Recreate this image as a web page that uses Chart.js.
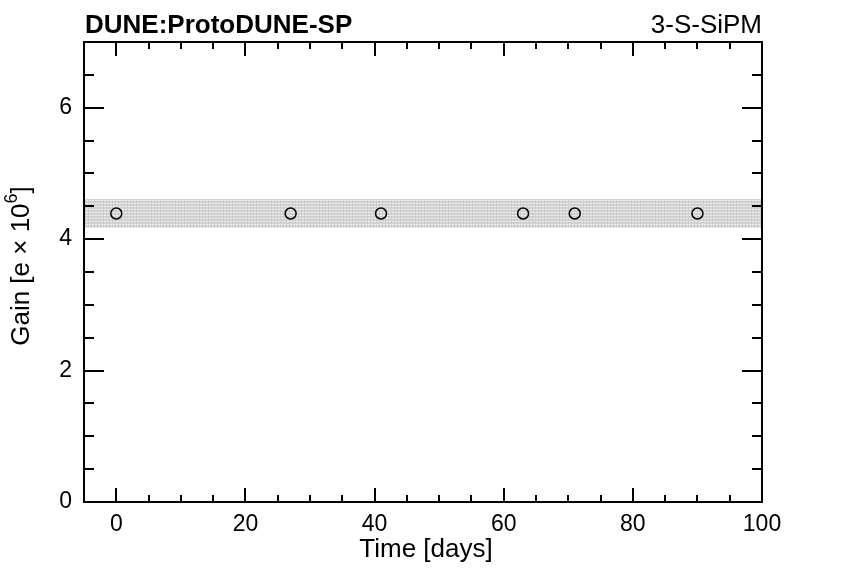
<!DOCTYPE html>
<html>
<head>
<meta charset="utf-8">
<script src="https://cdn.jsdelivr.net/npm/chart.js@4"></script>
<style>
  html, body { margin: 0; padding: 0; background: #fff; }
  #wrap { width: 847px; height: 574px; }
</style>
</head>
<body>
<div id="wrap"><canvas id="gainChart" width="847" height="574"></canvas></div>
<script>
const font = "'Liberation Sans', Arial, Helvetica, sans-serif";

// measured points
const timeDays = [0, 27, 41, 63, 71, 90];
const gainValues = [4.39, 4.39, 4.39, 4.39, 4.39, 4.39];

// band around the mean gain
const bandX = [-5, 100];
const bandLow = [4.17, 4.17];
const bandHigh = [4.61, 4.61];

const xRange = [-5, 100];
const yRange = [0, 7];
const xMajorLabels = [0, 20, 40, 60, 80, 100];
const yMajorLabels = [0, 2, 4, 6];

// dotted grey fill, a bit like the ROOT hatch
function makePattern() {
  const c = document.createElement("canvas");
  c.width = 3;
  c.height = 3;
  const g = c.getContext("2d");
  g.fillStyle = "#d2d2d2";
  g.fillRect(0, 0, 3, 3);
  g.fillStyle = "#eeeeee";
  g.fillRect(0, 2, 1, 1);
  g.fillRect(2, 2, 1, 1);
  g.fillStyle = "#c6c6c6";
  g.fillRect(1, 0, 1, 1);
  return g.createPattern(c, "repeat");
}

const frameAndTicks = {
  id: "frameAndTicks",
  afterDraw(chart) {
    const { ctx, chartArea: a, scales } = chart;
    ctx.save();
    ctx.strokeStyle = "#000";
    ctx.lineWidth = 2;
    ctx.beginPath();
    for (const t of scales.x.ticks) {
      const px = Math.round(scales.x.getPixelForValue(t.value));
      const len = t.value % 20 === 0 ? 14 : 7;
      ctx.moveTo(px, a.bottom); ctx.lineTo(px, a.bottom - len);
      ctx.moveTo(px, a.top); ctx.lineTo(px, a.top + len);
    }
    for (const t of scales.y.ticks) {
      const py = Math.round(scales.y.getPixelForValue(t.value));
      const len = Math.abs(t.value % 2) < 1e-9 ? 20 : 10;
      ctx.moveTo(a.left, py); ctx.lineTo(a.left + len, py);
      ctx.moveTo(a.right, py); ctx.lineTo(a.right - len, py);
    }
    ctx.stroke();
    ctx.strokeRect(a.left, a.top, a.right - a.left, a.bottom - a.top);

    // header texts
    ctx.fillStyle = "#000";
    ctx.textBaseline = "alphabetic";
    ctx.font = "bold 26px " + font;
    ctx.textAlign = "left";
    ctx.fillText("DUNE:ProtoDUNE-SP", a.left + 1, 33);
    ctx.font = "26px " + font;
    ctx.textAlign = "right";
    ctx.fillText("3-S-SiPM", a.right, 33);

    // x title
    ctx.textAlign = "center";
    ctx.fillText("Time [days]", (a.left + a.right) / 2 + 3, 557);

    // y title with superscript
    ctx.translate(29, (a.top + a.bottom) / 2);
    ctx.rotate(-Math.PI / 2);
    const main = "Gain [e \u00d7 10";
    ctx.font = "26px " + font;
    const w1 = ctx.measureText(main).width;
    ctx.font = "18px " + font;
    const w2 = ctx.measureText("6").width;
    ctx.font = "26px " + font;
    const w3 = ctx.measureText("]").width;
    let x0 = -(w1 + w2 + w3) / 2 + 6;
    ctx.textAlign = "left";
    ctx.fillText(main, x0, 0);
    ctx.font = "18px " + font;
    ctx.fillText("6", x0 + w1, -12);
    ctx.font = "26px " + font;
    ctx.fillText("]", x0 + w1 + w2, 0);
    ctx.restore();
  }
};

const pattern = makePattern();

new Chart(document.getElementById("gainChart"), {
  type: "scatter",
  data: {
    datasets: [
      {
        label: "band low",
        data: bandX.map((x, i) => ({ x, y: bandLow[i] })),
        showLine: true,
        borderWidth: 0,
        borderColor: "rgba(0,0,0,0)",
        pointRadius: 0,
        fill: false,
        order: 3
      },
      {
        label: "band high",
        data: bandX.map((x, i) => ({ x, y: bandHigh[i] })),
        showLine: true,
        borderWidth: 0,
        borderColor: "rgba(0,0,0,0)",
        backgroundColor: pattern,
        pointRadius: 0,
        fill: "-1",
        order: 2
      },
      {
        label: "Gain",
        data: timeDays.map((x, i) => ({ x, y: gainValues[i] })),
        pointStyle: "circle",
        pointRadius: 5.5,
        pointBorderWidth: 1.5,
        pointBorderColor: "#000",
        pointBackgroundColor: "rgba(0,0,0,0)",
        order: 0
      }
    ]
  },
  options: {
    responsive: false,
    animation: false,
    devicePixelRatio: 1,
    layout: { padding: { left: 0, right: 85, top: 42, bottom: 0 } },
    plugins: {
      legend: { display: false },
      tooltip: { enabled: false }
    },
    scales: {
      x: {
        type: "linear",
        min: xRange[0],
        max: xRange[1],
        grid: { display: false, drawTicks: false },
        border: { display: false },
        afterFit(scale) { scale.height = 72; },
        ticks: {
          stepSize: 5,
          autoSkip: false,
          maxRotation: 0,
          padding: 9,
          color: "#000",
          font: { family: font, size: 23 },
          callback: (v) => xMajorLabels.includes(v) ? String(v) : ""
        }
      },
      y: {
        type: "linear",
        min: yRange[0],
        max: yRange[1],
        grid: { display: false, drawTicks: false },
        border: { display: false },
        afterFit(scale) { scale.width = 84; },
        ticks: {
          stepSize: 0.5,
          autoSkip: false,
          padding: 12,
          color: "#000",
          font: { family: font, size: 23 },
          callback: (v) => yMajorLabels.includes(v) ? String(v) : ""
        }
      }
    }
  },
  plugins: [frameAndTicks]
});
</script>
</body>
</html>
